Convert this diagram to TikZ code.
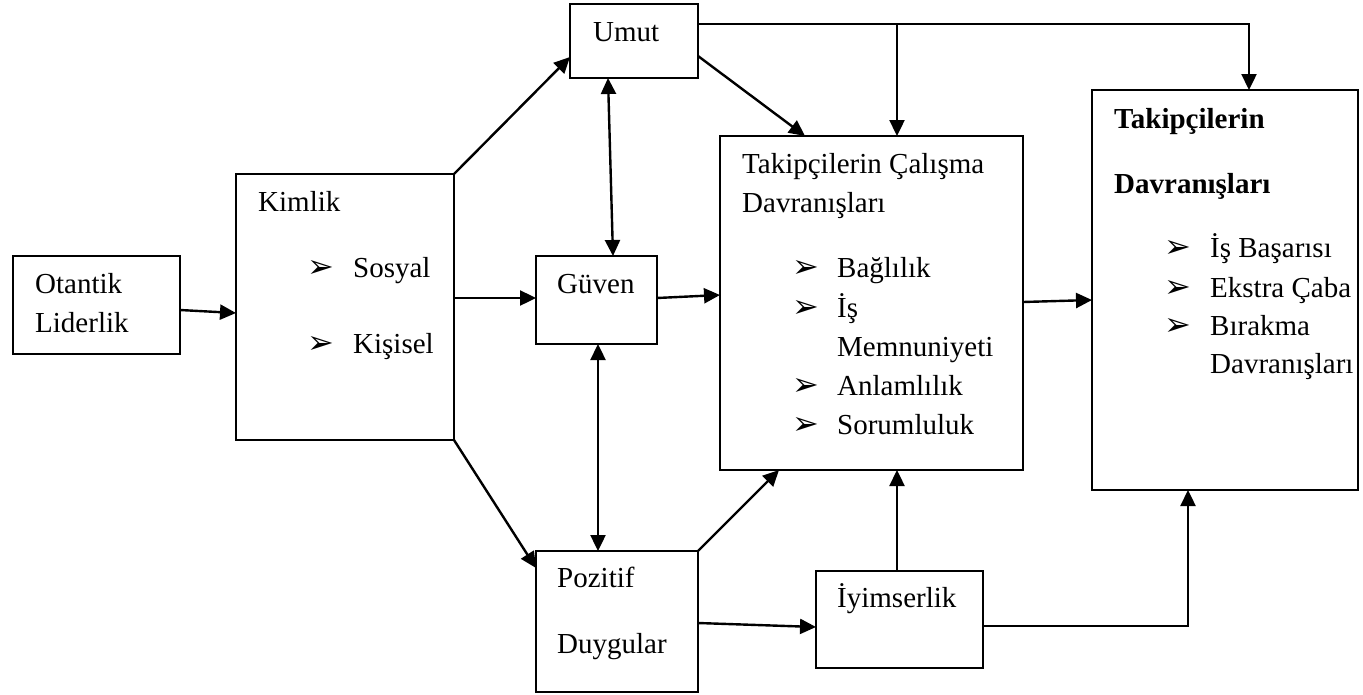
\documentclass[tikz,border=0pt]{standalone}
\usepackage{fontspec}
\setmainfont{Liberation Serif}
\newfontfamily\dejavu{DejaVu Sans}
\usetikzlibrary{arrows.meta}
\begin{document}
\begin{tikzpicture}[x=1pt,y=-1pt,
  box/.style={draw, line width=1.8pt, rectangle, inner sep=0pt, outer sep=0pt},
  conn/.style={line width=2.4pt, -{Triangle[length=16pt,width=15pt]}},
  both/.style={line width=2.4pt, {Triangle[length=16pt,width=15pt]}-{Triangle[length=16pt,width=15pt]}},
  txt/.style={anchor=base west, inner sep=0pt, font=\fontsize{29}{39}\selectfont},
  btxt/.style={anchor=base west, inner sep=0pt, font=\fontsize{29}{39}\selectfont\bfseries},
  blt/.style={anchor=base west, inner sep=0pt, font=\dejavu\fontsize{32}{36}\selectfont}]
\useasboundingbox (0,0) rectangle (1363,694);
% boxes
\node[box, minimum width=167pt, minimum height=98pt] (otantik) at (96.5,305) {};
\node[box, minimum width=218pt, minimum height=266pt] (kimlik) at (345,307) {};
\node[box, minimum width=128pt, minimum height=74pt] (umut) at (634,41) {};
\node[box, minimum width=121pt, minimum height=88pt] (guven) at (596.5,300) {};
\node[box, minimum width=162pt, minimum height=141pt] (pozitif) at (617,621.5) {};
\node[box, minimum width=167pt, minimum height=97pt] (iyim) at (899.5,619.5) {};
\node[box, minimum width=303pt, minimum height=334pt] (calisma) at (871.5,303) {};
\node[box, minimum width=266pt, minimum height=400pt] (takip) at (1225,290) {};
% texts
\node[txt] (t1) at (35,293) {Otantik};
\node[txt] (t2) at (35,332) {Liderlik};
\node[txt] (t3) at (258,211) {Kimlik};
\node[blt] (b1) at (307,277) {➢};
\node[blt] (b2) at (307,353) {➢};
\node[txt] (t4) at (353,277) {Sosyal};
\node[txt] (t5) at (353,353) {Kişisel};
\node[txt] (t6) at (593,41) {Umut};
\node[txt] (t7) at (557,293) {Güven};
\node[txt] (t8) at (557,587) {Pozitif};
\node[txt] (t9) at (557,653) {Duygular};
\node[txt] (t10) at (837,607) {İyimserlik};
\node[txt] (t11) at (742,173) {Takipçilerin Çalışma};
\node[txt] (t12) at (742,212) {Davranışları};
\node[blt] (b3) at (792,277) {➢};
\node[blt] (b4) at (792,317) {➢};
\node[blt] (b5) at (792,395) {➢};
\node[blt] (b6) at (792,434) {➢};
\node[txt] (t13) at (837,277) {Bağlılık};
\node[txt] (t14) at (837,317) {İş};
\node[txt] (t15) at (837,356) {Memnuniyeti};
\node[txt] (t16) at (837,395) {Anlamlılık};
\node[txt] (t17) at (837,434) {Sorumluluk};
\node[btxt] (t18) at (1114,128) {Takipçilerin};
\node[btxt] (t19) at (1114,193) {Davranışları};
\node[blt] (b7) at (1164,257) {➢};
\node[blt] (b8) at (1164,297) {➢};
\node[blt] (b9) at (1164,335) {➢};
\node[txt] (t20) at (1210,257) {İş Başarısı};
\node[txt] (t21) at (1210,297) {Ekstra Çaba};
\node[txt] (t22) at (1210,335) {Bırakma};
\node[txt] (t23) at (1210,373) {Davranışları};
% helper coordinates
\coordinate (uE) at ([yshift=17pt]umut.east);
\coordinate (cN) at ([xshift=25.5pt]calisma.north);
\coordinate (tN) at ([xshift=24pt]takip.north);
\coordinate (iE) at ([yshift=-6.5pt]iyim.east);
\coordinate (tS) at ([xshift=-37pt]takip.south);
% connectors
\draw[conn] ([yshift=-5pt]otantik.east) -- ([yshift=-6pt]kimlik.west);
\draw[conn] (kimlik.north east) -- ([yshift=-16pt]umut.west);
\draw[conn] ([yshift=9pt]kimlik.east) -- ([yshift=2pt]guven.west);
\draw[conn] (kimlik.south east) -- ([yshift=-17pt]pozitif.north west);
\draw[both] ([xshift=-26pt]umut.south) -- ([xshift=16.5pt]guven.north);
\draw[both] ([xshift=1.5pt]guven.south) -- ([xshift=-19pt]pozitif.north);
\draw[conn] ([yshift=2pt]guven.east) -- ([yshift=8pt]calisma.west);
\draw[conn] ([yshift=-15pt]umut.east) -- ([xshift=-66.5pt]calisma.north);
\draw[conn] (uE) -| (tN);
\draw[conn] (uE -| cN) -- (cN);
\draw[conn] (pozitif.north east) -- ([xshift=-92.5pt]calisma.south);
\draw[conn] ([yshift=-1.5pt]pozitif.east) -- ([yshift=-7.5pt]iyim.west);
\draw[conn] ([xshift=-2.5pt]iyim.north) -- ([xshift=25.5pt]calisma.south);
\draw[conn] (iE) -| (tS);
\draw[conn] ([yshift=1pt]calisma.east) -- ([yshift=-10pt]takip.west);
\end{tikzpicture}
\end{document}
